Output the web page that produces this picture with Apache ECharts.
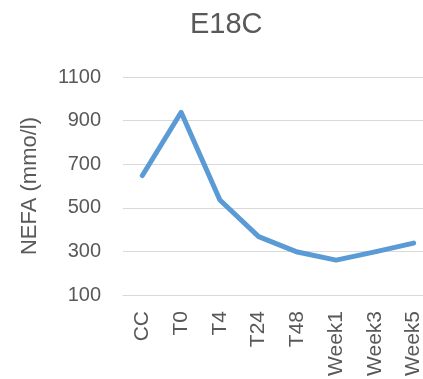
<!DOCTYPE html>
<html>
<head>
<meta charset="utf-8">
<script src="https://cdn.jsdelivr.net/npm/echarts@6/dist/echarts.min.js"></script>
<style>
  html, body { margin: 0; padding: 0; background: #fff; }
  #chart { width: 423px; height: 379px; }
</style>
</head>
<body>
<div id="chart"></div>
<script>
// Sampling time points and mean NEFA values
const categories = ['CC', 'T0', 'T4', 'T24', 'T48', 'Week1', 'Week3', 'Week5'];
const nefaValues = [648, 938, 536, 368, 297, 260, 298, 338];
const yTicks = { min: 100, max: 1100, step: 200 };

const FONT = '"Liberation Sans", "DejaVu Sans", sans-serif';
const TEXT = '#595959';

const chart = echarts.init(document.getElementById('chart'), null, { renderer: 'canvas' });
chart.setOption({
  animation: false,
  title: {
    text: 'E18C',
    left: 185,
    top: 5,
    textStyle: { fontFamily: FONT, fontSize: 29, fontWeight: 'normal', color: TEXT }
  },
  // plot area runs past the right edge of the canvas
  grid: { left: 123, width: 310, top: 77, height: 218, outerBoundsMode: 'none' },
  xAxis: {
    type: 'category',
    data: categories,
    boundaryGap: true,
    axisLine: { show: true, lineStyle: { color: '#d9d9d9', width: 1 } },
    axisTick: { show: false },
    axisLabel: {
      rotate: 90,
      margin: 16,
      fontFamily: FONT,
      fontSize: 21,
      color: TEXT
    }
  },
  yAxis: {
    type: 'value',
    min: yTicks.min,
    max: yTicks.max,
    interval: yTicks.step,
    name: 'NEFA (mmo/l)',
    nameLocation: 'middle',
    nameGap: 82,
    nameTextStyle: { fontFamily: FONT, fontSize: 22, color: TEXT },
    axisLine: { show: false },
    axisTick: { show: false },
    axisLabel: {
      margin: 22,
      fontFamily: FONT,
      fontSize: 20,
      color: TEXT,
      formatter: v => String(v)
    },
    splitLine: { lineStyle: { color: '#d9d9d9', width: 1 } }
  },
  series: [{
    type: 'line',
    data: nefaValues,
    showSymbol: false,
    symbol: 'none',
    lineStyle: { color: '#5B9BD5', width: 5, cap: 'round', join: 'round' }
  }]
});
</script>
</body>
</html>
